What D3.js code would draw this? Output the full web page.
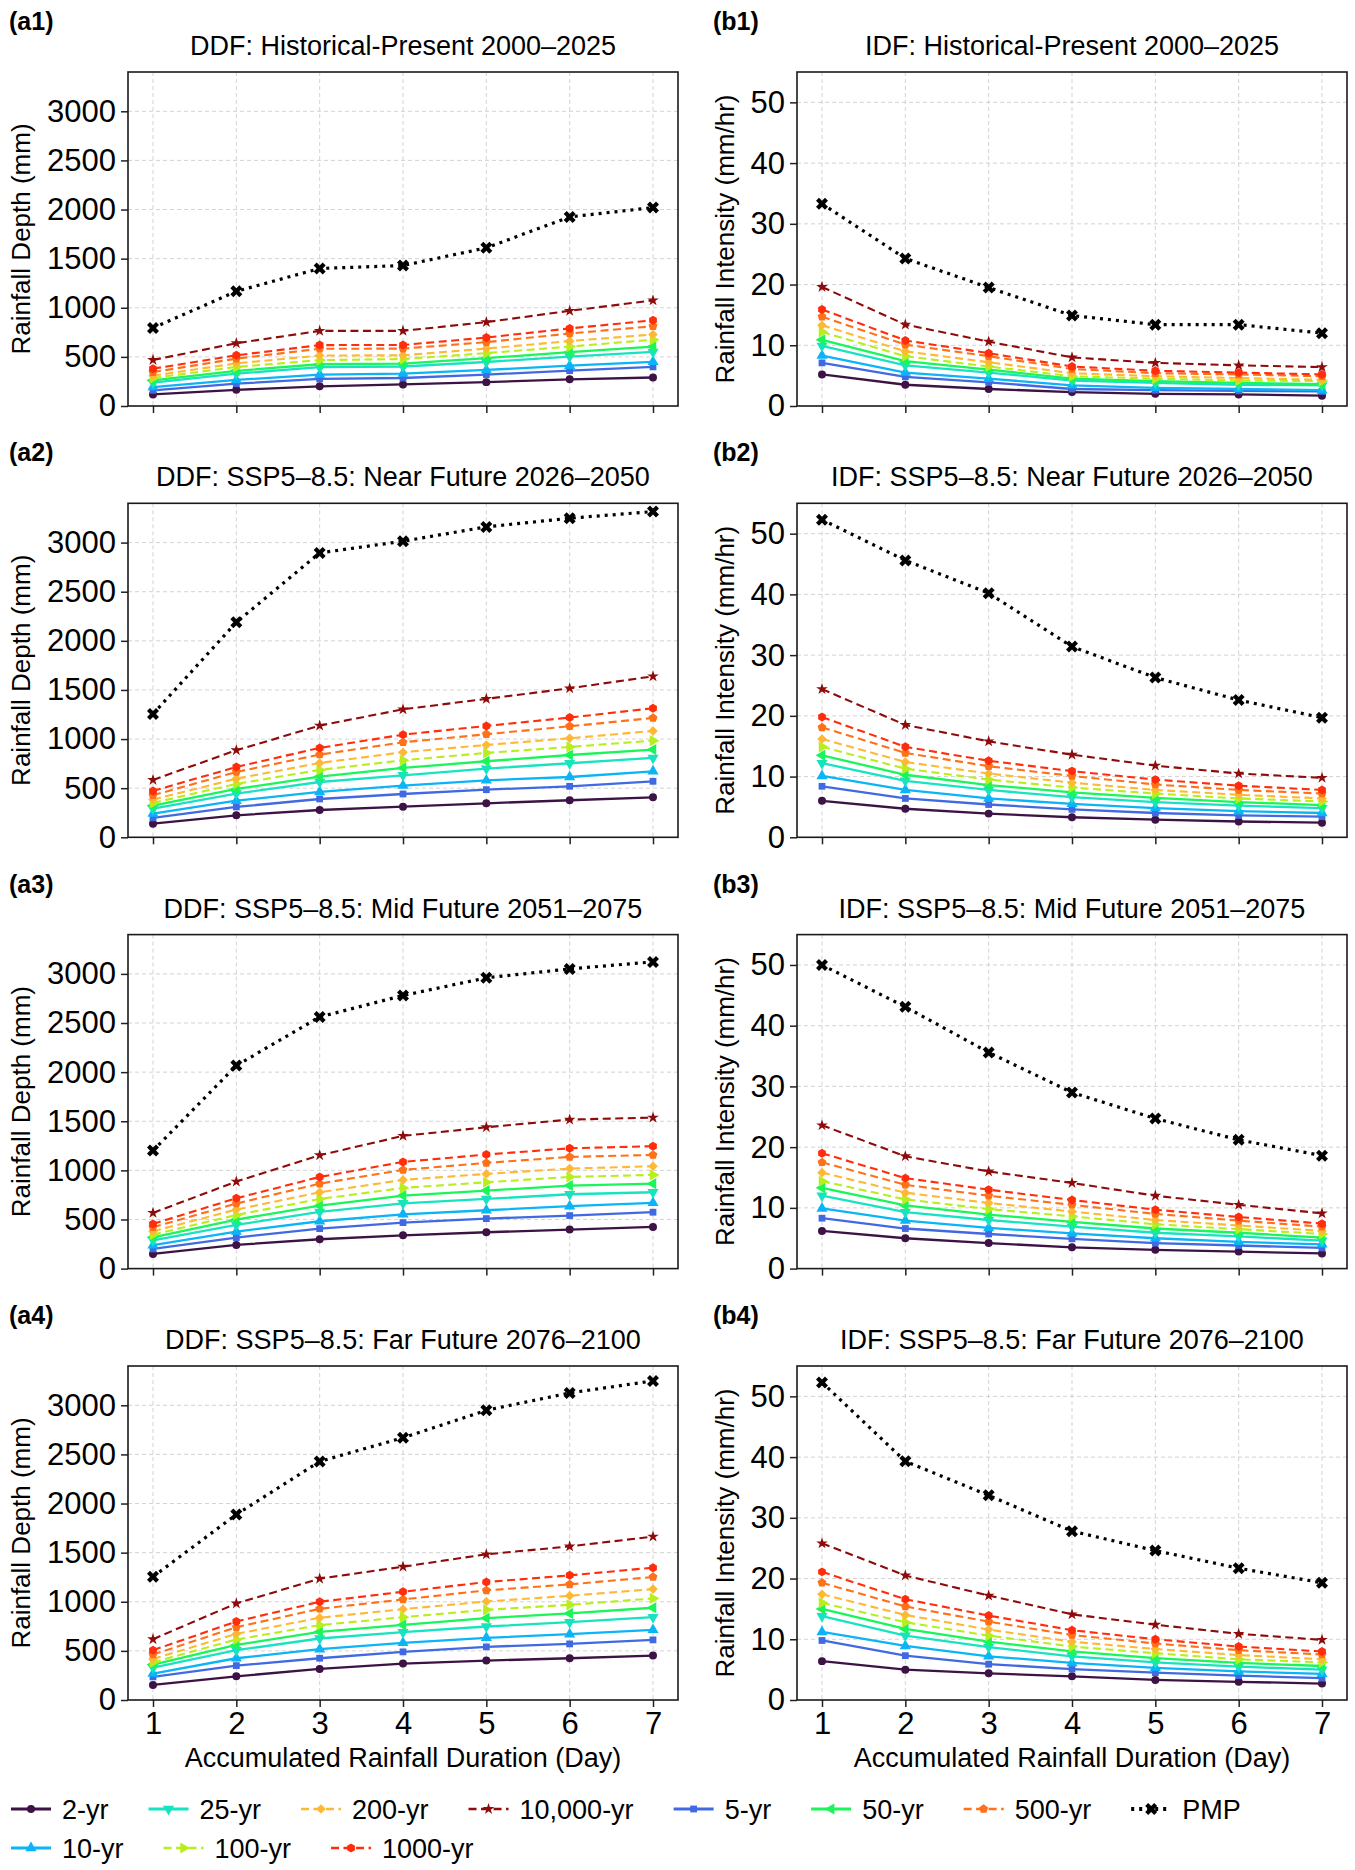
<!DOCTYPE html>
<html>
<head>
<meta charset="utf-8">
<script src="https://cdn.jsdelivr.net/npm/d3@7"></script>
<style>
  body { margin: 0; background: #fff; }
  svg text { font-family: "Liberation Sans", Arial, Helvetica, sans-serif; fill: #000; }
</style>
</head>
<body>
<svg id="chart" width="1355" height="1870"></svg>
<script>
// ---- data ----
const days = [1, 2, 3, 4, 5, 6, 7]
const periods = ["2-yr", "5-yr", "10-yr", "25-yr", "50-yr", "100-yr", "200-yr", "500-yr", "1000-yr", "10,000-yr", "PMP"]
const legendOrder = ["2-yr", "25-yr", "200-yr", "10,000-yr", "5-yr", "50-yr", "500-yr", "PMP", "10-yr", "100-yr", "1000-yr"]
const depthTicks = [0, 500, 1000, 1500, 2000, 2500, 3000]
const intensityTicks = [0, 10, 20, 30, 40, 50]

const scenarios = ["Historical-Present 2000–2025", "SSP5–8.5: Near Future 2026–2050",
  "SSP5–8.5: Mid Future 2051–2075", "SSP5–8.5: Far Future 2076–2100"]

// rainfall depth (mm), one row per return period (same order as `periods`)
const depthA1 = [
  [118, 165, 200, 220, 243, 272, 290],
  [160, 227, 276, 285, 320, 360, 398],
  [193, 265, 320, 330, 367, 410, 450],
  [238, 330, 395, 402, 448, 503, 550],
  [260, 358, 425, 432, 487, 548, 605],
  [285, 398, 467, 478, 538, 605, 675],
  [308, 434, 514, 516, 585, 661, 728],
  [345, 482, 583, 584, 650, 738, 812],
  [380, 516, 620, 621, 697, 790, 872],
  [469, 639, 765, 765, 854, 969, 1075],
  [795, 1167, 1400, 1430, 1610, 1925, 2020]
]
const depthA2 = [
  [139, 224, 278, 312, 346, 377, 407],
  [197, 309, 390, 441, 485, 519, 570],
  [241, 373, 462, 526, 580, 614, 672],
  [292, 445, 563, 631, 699, 754, 808],
  [322, 492, 618, 706, 774, 838, 893],
  [350, 543, 686, 784, 859, 920, 984],
  [384, 597, 757, 866, 940, 1008, 1083],
  [428, 665, 842, 967, 1049, 1130, 1215],
  [472, 716, 910, 1045, 1134, 1219, 1314],
  [584, 886, 1137, 1303, 1409, 1517, 1639],
  [1255, 2189, 2895, 3014, 3160, 3248, 3316]
]
const depthA3 = [
  [149, 241, 299, 339, 370, 397, 424],
  [200, 316, 407, 468, 509, 540, 574],
  [238, 377, 482, 553, 594, 635, 669],
  [288, 445, 577, 665, 709, 757, 777],
  [319, 499, 641, 743, 794, 845, 865],
  [346, 546, 709, 821, 879, 933, 954],
  [380, 601, 777, 903, 964, 1018, 1042],
  [421, 662, 865, 1005, 1076, 1137, 1157],
  [455, 716, 933, 1086, 1161, 1225, 1246],
  [567, 886, 1154, 1351, 1439, 1517, 1537],
  [1201, 2067, 2562, 2780, 2960, 3051, 3122]
]
const depthA4 = [
  [153, 241, 316, 371, 401, 425, 452],
  [235, 350, 425, 490, 541, 571, 612],
  [269, 425, 517, 582, 633, 670, 714],
  [330, 507, 626, 690, 748, 792, 843],
  [361, 561, 694, 765, 833, 881, 939],
  [384, 616, 762, 843, 918, 969, 1034],
  [418, 673, 837, 925, 1003, 1061, 1129],
  [463, 741, 928, 1024, 1116, 1177, 1252],
  [507, 799, 1000, 1102, 1201, 1269, 1347],
  [619, 983, 1235, 1357, 1483, 1564, 1663],
  [1255, 1888, 2428, 2670, 2949, 3126, 3248]
]

// rainfall intensity (mm/hr)
const intensityB1 = [
  [5.2, 3.5, 2.8, 2.3, 2.0, 1.9, 1.7],
  [7.1, 4.8, 3.9, 2.8, 2.6, 2.5, 2.4],
  [8.3, 5.5, 4.5, 3.4, 3.0, 2.8, 2.6],
  [9.9, 6.7, 5.5, 4.2, 3.8, 3.5, 3.4],
  [10.9, 7.4, 6.0, 4.5, 4.1, 3.8, 3.6],
  [12.2, 8.2, 6.5, 4.9, 4.5, 4.2, 4.1],
  [13.3, 9.0, 7.2, 5.4, 4.9, 4.6, 4.3],
  [14.7, 10.1, 8.2, 6.1, 5.4, 5.2, 4.9],
  [15.9, 10.8, 8.7, 6.5, 5.8, 5.5, 5.2],
  [19.6, 13.4, 10.6, 8.0, 7.1, 6.7, 6.4],
  [33.3, 24.3, 19.5, 14.9, 13.4, 13.4, 12.0]
]
const intensityB2 = [
  [6.0, 4.7, 3.9, 3.3, 2.9, 2.6, 2.4],
  [8.4, 6.4, 5.4, 4.6, 4.0, 3.6, 3.4],
  [10.1, 7.8, 6.4, 5.5, 4.8, 4.3, 4.0],
  [12.2, 9.3, 7.8, 6.6, 5.8, 5.2, 4.8],
  [13.5, 10.3, 8.6, 7.4, 6.5, 5.8, 5.3],
  [14.9, 11.3, 9.5, 8.2, 7.2, 6.4, 5.9],
  [16.2, 12.4, 10.5, 9.0, 7.8, 7.0, 6.4],
  [18.1, 13.9, 11.7, 10.1, 8.7, 7.8, 7.2],
  [19.8, 14.9, 12.6, 10.9, 9.5, 8.5, 7.8],
  [24.4, 18.5, 15.8, 13.6, 11.8, 10.5, 9.8],
  [52.3, 45.6, 40.2, 31.4, 26.3, 22.6, 19.7]
]
const intensityB3 = [
  [6.2, 5.0, 4.2, 3.5, 3.1, 2.8, 2.5],
  [8.3, 6.6, 5.7, 4.9, 4.2, 3.8, 3.4],
  [9.9, 7.9, 6.7, 5.8, 5.0, 4.4, 4.0],
  [12.0, 9.3, 8.0, 6.9, 5.9, 5.3, 4.6],
  [13.3, 10.4, 8.9, 7.7, 6.6, 5.9, 5.1],
  [14.4, 11.4, 9.8, 8.6, 7.3, 6.5, 5.7],
  [15.8, 12.5, 10.8, 9.4, 8.0, 7.1, 6.2],
  [17.5, 13.8, 12.0, 10.5, 9.0, 7.9, 6.9],
  [19.0, 14.9, 13.0, 11.3, 9.7, 8.5, 7.4],
  [23.6, 18.5, 16.0, 14.1, 12.0, 10.5, 9.1],
  [50.0, 43.1, 35.6, 29.0, 24.7, 21.2, 18.6]
]
const intensityB4 = [
  [6.4, 5.0, 4.4, 3.9, 3.3, 3.0, 2.7],
  [9.8, 7.3, 5.9, 5.1, 4.5, 4.0, 3.6],
  [11.2, 8.9, 7.2, 6.1, 5.3, 4.7, 4.3],
  [13.8, 10.6, 8.7, 7.2, 6.2, 5.5, 5.0],
  [15.0, 11.7, 9.6, 8.0, 6.9, 6.1, 5.6],
  [16.0, 12.8, 10.6, 8.8, 7.7, 6.7, 6.2],
  [17.4, 14.0, 11.6, 9.6, 8.4, 7.4, 6.7],
  [19.3, 15.4, 12.9, 10.7, 9.3, 8.2, 7.5],
  [21.1, 16.6, 13.9, 11.5, 10.0, 8.8, 8.0],
  [25.8, 20.5, 17.2, 14.1, 12.4, 10.9, 9.9],
  [52.3, 39.3, 33.7, 27.8, 24.6, 21.7, 19.3]
]

// ---- styling ----
const pentagon = {
  draw (ctx, size) {
    const r = Math.sqrt(size / 2.378)
    for (let i = 0; i < 5; i++) {
      const a = -Math.PI / 2 + i * 2 * Math.PI / 5
      i ? ctx.lineTo(r * Math.cos(a), r * Math.sin(a)) : ctx.moveTo(r * Math.cos(a), r * Math.sin(a))
    }
    ctx.closePath()
  }
}
const hexagon = {
  draw (ctx, size) {
    const r = Math.sqrt(size / 2.598)
    for (let i = 0; i < 6; i++) {
      const a = -Math.PI / 2 + i * Math.PI / 3
      i ? ctx.lineTo(r * Math.cos(a), r * Math.sin(a)) : ctx.moveTo(r * Math.cos(a), r * Math.sin(a))
    }
    ctx.closePath()
  }
}

const style = {
  "2-yr":      { color: "#3d1244", dash: null,   type: d3.symbolCircle,   size: 50, rot: 0 },
  "5-yr":      { color: "#4169e1", dash: null,   type: d3.symbolSquare,   size: 46, rot: 0 },
  "10-yr":     { color: "#0bb4f6", dash: null,   type: d3.symbolTriangle, size: 54, rot: 0 },
  "25-yr":     { color: "#18e3c0", dash: null,   type: d3.symbolTriangle, size: 54, rot: 180 },
  "50-yr":     { color: "#1af55a", dash: null,   type: d3.symbolTriangle, size: 54, rot: -90 },
  "100-yr":    { color: "#b8ee1e", dash: "8,4.5", type: d3.symbolTriangle, size: 54, rot: 90 },
  "200-yr":    { color: "#ffb833", dash: "8,4.5", type: d3.symbolSquare,   size: 46, rot: 45 },
  "500-yr":    { color: "#ff7118", dash: "8,4.5", type: pentagon,         size: 52, rot: 0 },
  "1000-yr":   { color: "#ff2d0b", dash: "8,4.5", type: hexagon,          size: 52, rot: 0 },
  "10,000-yr": { color: "#8e0b0b", dash: "8,4.5", type: d3.symbolStar,    size: 42, rot: 0 },
  "PMP":       { color: "#000000", dash: "3,5",  type: d3.symbolCross,    size: 90, rot: 45 }
}
const lineWidth = p => p === "PMP" ? 3.2 : (style[p].dash ? 2.1 : 2.3)

const svg = d3.select("#chart")
const W = 550, H = 334
const colLeft = [128, 797]
const rowTop = [72, 503.3, 934.6, 1366]

const x = d3.scaleLinear().domain([0.7, 7.3]).range([0, W])
const yDepth = d3.scaleLinear().domain([0, 3400]).range([H, 0])
const yIntensity = d3.scaleLinear().domain([0, 55]).range([H, 0])

const panels = [
  { col: 0, row: 0, label: "(a1)", kind: "DDF", data: depthA1 },
  { col: 0, row: 1, label: "(a2)", kind: "DDF", data: depthA2 },
  { col: 0, row: 2, label: "(a3)", kind: "DDF", data: depthA3 },
  { col: 0, row: 3, label: "(a4)", kind: "DDF", data: depthA4 },
  { col: 1, row: 0, label: "(b1)", kind: "IDF", data: intensityB1 },
  { col: 1, row: 1, label: "(b2)", kind: "IDF", data: intensityB2 },
  { col: 1, row: 2, label: "(b3)", kind: "IDF", data: intensityB3 },
  { col: 1, row: 3, label: "(b4)", kind: "IDF", data: intensityB4 }
]

function marker (p) {
  return d3.symbol().type(style[p].type).size(style[p].size)()
}

panels.forEach(pn => {
  const left = colLeft[pn.col], top = rowTop[pn.row]
  const y = pn.kind === "DDF" ? yDepth : yIntensity
  const ticks = pn.kind === "DDF" ? depthTicks : intensityTicks
  const g = svg.append("g").attr("transform", `translate(${left},${top})`)

  // panel label and title
  svg.append("text")
    .attr("x", pn.col === 0 ? 9 : 713).attr("y", top - 42)
    .attr("font-size", 25).attr("font-weight", "bold")
    .text(pn.label)
  svg.append("text")
    .attr("x", left + W / 2).attr("y", top - 17)
    .attr("text-anchor", "middle").attr("font-size", 27)
    .text(`${pn.kind}: ${scenarios[pn.row]}`)

  // grid
  g.append("g").selectAll("line").data(days).join("line")
    .attr("x1", d => x(d)).attr("x2", d => x(d)).attr("y1", 0).attr("y2", H)
    .attr("stroke", "#c8c8c8").attr("stroke-width", 0.8).attr("stroke-dasharray", "4,3")
  g.append("g").selectAll("line").data(ticks.slice(1)).join("line")
    .attr("x1", 0).attr("x2", W).attr("y1", d => y(d)).attr("y2", d => y(d))
    .attr("stroke", "#c8c8c8").attr("stroke-width", 0.8).attr("stroke-dasharray", "4,3")

  // series
  const line = d3.line().x((d, i) => x(days[i])).y(d => y(d))
  periods.forEach((p, k) => {
    const vals = pn.data[k]
    const s = g.append("g")
    s.append("path").attr("d", line(vals))
      .attr("fill", "none").attr("stroke", style[p].color)
      .attr("stroke-width", lineWidth(p))
      .attr("stroke-dasharray", style[p].dash)
    s.selectAll("path.m").data(vals).join("path")
      .attr("class", "m")
      .attr("d", marker(p))
      .attr("transform", (d, i) => `translate(${x(days[i])},${y(d)}) rotate(${style[p].rot})`)
      .attr("fill", style[p].color)
  })

  // axes
  const yAxis = g.append("g")
    .call(d3.axisLeft(y).tickValues(ticks).tickSize(7).tickPadding(5).tickFormat(d3.format("d")))
  const xAxis = g.append("g").attr("transform", `translate(0,${H})`)
    .call(d3.axisBottom(x).tickValues(days).tickSize(7).tickPadding(5)
      .tickFormat(pn.row === 3 ? d3.format("d") : () => ""))
  ;[yAxis, xAxis].forEach(a => {
    a.attr("font-family", null)
    a.select(".domain").remove()
    a.selectAll(".tick line").attr("stroke", "#222").attr("stroke-width", 1.5)
    a.selectAll(".tick text").attr("font-size", 31).attr("fill", "#000")
  })

  g.append("rect").attr("width", W).attr("height", H)
    .attr("fill", "none").attr("stroke", "#1a1a1a").attr("stroke-width", 1.6)

  // y label placed left of the widest tick label
  const tickLeft = d3.min(yAxis.selectAll(".tick text").nodes(), n => -7 - 5 - n.getComputedTextLength())
  g.append("text")
    .attr("transform", `translate(${tickLeft - 26},${H / 2}) rotate(-90)`)
    .attr("text-anchor", "middle").attr("dy", "0.35em").attr("font-size", 26)
    .text(pn.kind === "DDF" ? "Rainfall Depth (mm)" : "Rainfall Intensity (mm/hr)")

  if (pn.row === 3) {
    g.append("text")
      .attr("x", W / 2).attr("y", H + 67)
      .attr("text-anchor", "middle").attr("font-size", 27)
      .text("Accumulated Rainfall Duration (Day)")
  }
})

// ---- legend (flowing, two rows) ----
const legendRows = [legendOrder.slice(0, 8), legendOrder.slice(8)]
const legendY = [1809, 1848]
legendRows.forEach((row, r) => {
  let x0 = 11
  row.forEach(p => {
    const lg = svg.append("g").attr("transform", `translate(${x0},${legendY[r]})`)
    lg.append("line").attr("x1", 0).attr("x2", 40)
      .attr("stroke", style[p].color).attr("stroke-width", lineWidth(p) + 0.6)
      .attr("stroke-dasharray", style[p].dash)
    lg.append("path").attr("d", marker(p))
      .attr("transform", `translate(20,0) rotate(${style[p].rot})`)
      .attr("fill", style[p].color)
    const t = lg.append("text").attr("x", 51).attr("y", 10).attr("font-size", 27).text(p)
    x0 += 51 + t.node().getComputedTextLength() + 40
  })
})
</script>
</body>
</html>
